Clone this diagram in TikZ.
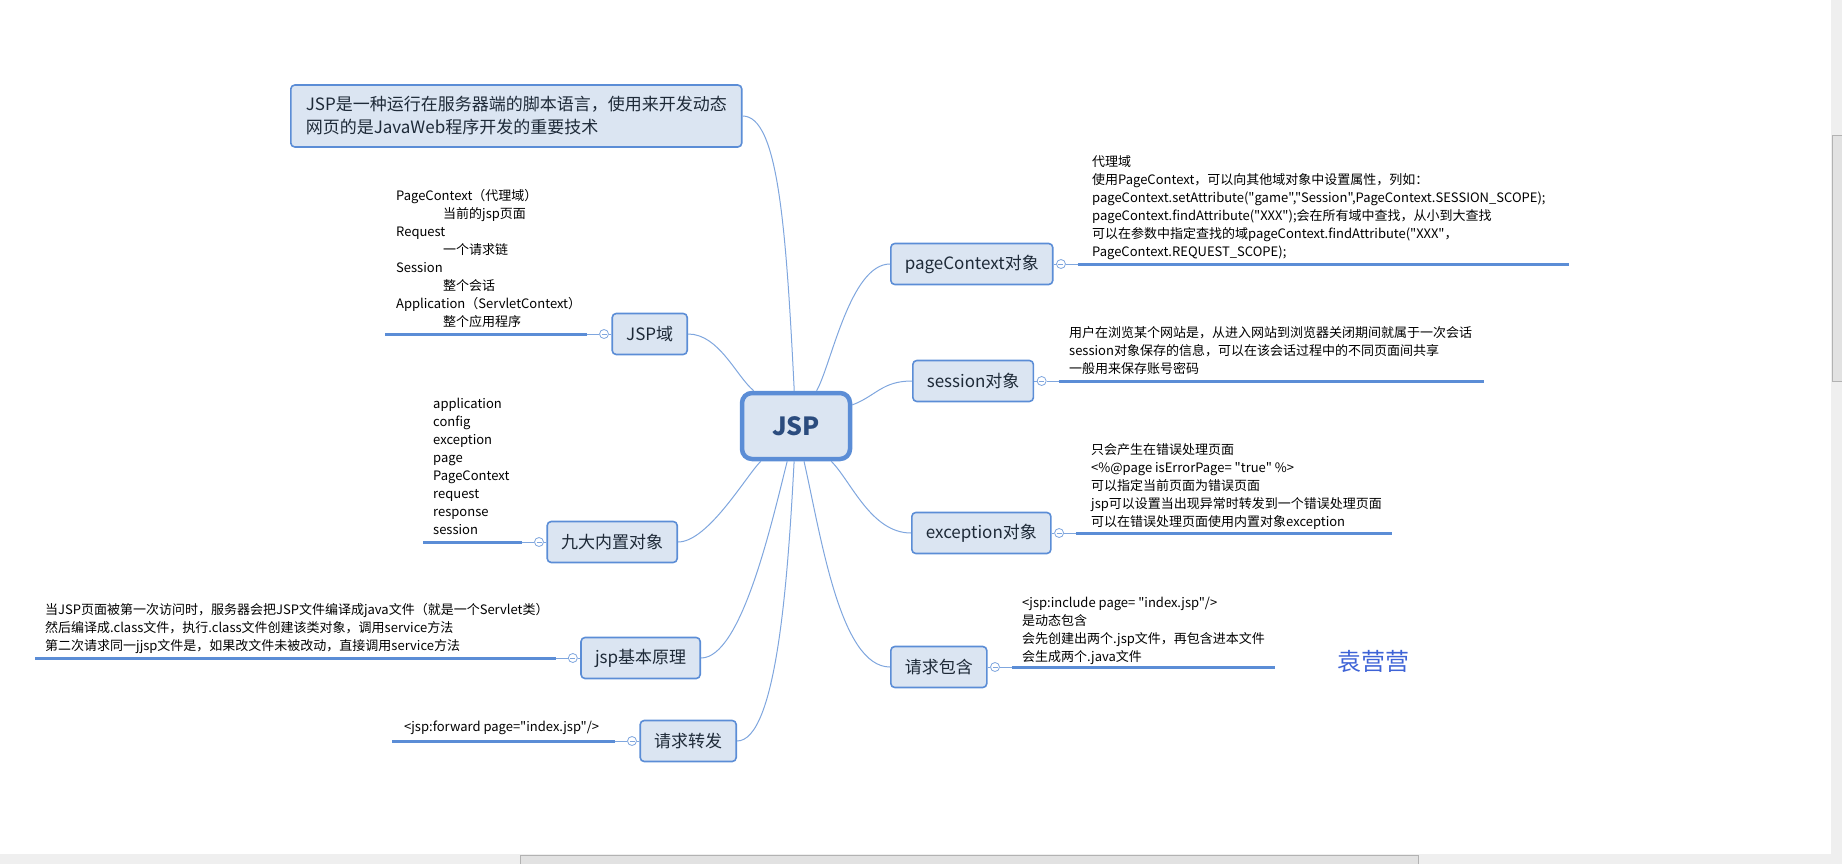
\documentclass[tikz,border=0pt]{standalone}
\usepackage{fontspec}
\setmainfont{Noto Sans CJK SC}[Ligatures=TeXOff]
\usetikzlibrary{positioning}

\definecolor{boxfill}{HTML}{DBE5F2}
\definecolor{linec}{HTML}{5B8DD6}
\definecolor{curvec}{HTML}{7FA6DE}
\definecolor{inkc}{HTML}{1E2A38}
\definecolor{rootink}{HTML}{2B4C7E}
\definecolor{signc}{HTML}{3E63D6}
\definecolor{barbg}{HTML}{EFEFEF}
\definecolor{thumbc}{HTML}{E2E2E2}

\newcommand\notefont{\fontsize{13}{18}\selectfont}
\newcommand\topicfont{\fontsize{17}{21}\selectfont}

\tikzset{
	topic/.style={draw=linec,fill=boxfill,line width=1.6pt,rounded corners=4pt,minimum height=41pt,inner xsep=14pt,font=\topicfont,text=inkc},
	fold/.style={draw=curvec,fill=white,circle,inner sep=0pt,minimum size=9pt,line width=0.8pt,
		path picture={\draw[curvec,line width=0.8pt] ([xshift=-2.5pt]path picture bounding box.center) -- ([xshift=2.5pt]path picture bounding box.center);}},
	twig/.style={curvec,line width=0.9pt},
	stem/.style={linec,line width=3pt},
	branch/.style={curvec,line width=1pt},
	note/.style={anchor=north west,inner sep=0pt,align=left,font=\notefont,text=black}
}

\begin{document}
\begin{tikzpicture}[x=1pt,y=-1pt]
			\useasboundingbox (0,0) rectangle (1842,864);
			% root and intro
			\node[draw=linec,fill=boxfill,line width=4.5pt,rounded corners=10pt,minimum width=108pt,minimum height=66pt,font=\fontsize{25}{30}\selectfont\bfseries,text=rootink] (jsp) at (796,426) {JSP};
			\node[topic,anchor=west,minimum height=62pt,minimum width=447pt,align=left,inner xsep=15pt,font=\fontsize{17}{23}\selectfont] (intro) at (290,116) {JSP是一种运行在服务器端的脚本语言，使用来开发动态\\网页的是JavaWeb程序开发的重要技术};
			% left branches
			\node[topic,anchor=east] (jy) at (688,334) {JSP域};
			\node[topic,anchor=east] (jz) at (678,542) {九大内置对象};
			\node[topic,anchor=east] (yl) at (701,658) {jsp基本原理};
			\node[topic,anchor=east] (zf) at (737,741) {请求转发};
			% right branches
			\node[topic,anchor=west] (pc) at (890,264) {pageContext对象};
			\node[topic,anchor=west] (ss) at (912,381) {session对象};
			\node[topic,anchor=west] (ex) at (911,533) {exception对象};
			\node[topic,anchor=west] (bh) at (890,667) {请求包含};

			\draw[branch] (jsp) .. controls (786,226) and (778,116) .. (intro.east);
			\draw[branch] (jsp) .. controls (736,376) and (719,334) .. (jy.east);
			\draw[branch] (jsp) .. controls (746,476) and (708,542) .. (jz.east);
			\draw[branch] (jsp) .. controls (771,526) and (741,658) .. (yl.east);
			\draw[branch] (jsp) .. controls (788,576) and (777,741) .. (zf.east);
			\draw[branch] (jsp) .. controls (831,366) and (850,264) .. (pc.west);
			\draw[branch] (jsp) .. controls (876,396) and (882,381) .. (ss.west);
			\draw[branch] (jsp) .. controls (851,481) and (871,533) .. (ex.west);
			\draw[branch] (jsp) .. controls (821,536) and (840,667) .. (bh.west);

			% fold marks and underlines
			\node[fold,left=2.5pt of jy] (jyT) {};
			\node[fold,left=2.5pt of jz] (jzT) {};
			\node[fold,left=2.5pt of yl] (ylT) {};
			\node[fold,left=2.5pt of zf] (zfT) {};
			\node[fold,right=2.5pt of pc] (pcT) {};
			\node[fold,right=2.5pt of ss] (ssT) {};
			\node[fold,right=2.5pt of ex] (exT) {};
			\node[fold,right=2.5pt of bh] (bhT) {};
			\coordinate[left=12pt of jyT] (jyA);
			\coordinate[left=12pt of jzT] (jzA);
			\coordinate[left=12pt of ylT] (ylA);
			\coordinate[left=12pt of zfT] (zfA);
			\coordinate[right=12pt of pcT] (pcA);
			\coordinate[right=12pt of ssT] (ssA);
			\coordinate[right=12pt of exT] (exA);
			\coordinate[right=12pt of bhT] (bhA);
			\coordinate (jyE) at (385,334);
			\coordinate (jzE) at (423,542);
			\coordinate (ylE) at (35,658);
			\coordinate (zfE) at (392,741);
			\coordinate (pcE) at (1569,264);
			\coordinate (ssE) at (1484,381);
			\coordinate (exE) at (1392,533);
			\coordinate (bhE) at (1275,667);
			\foreach \b in {jy,jz,yl,zf,pc,ss,ex,bh}{
				\draw[twig] (\b) -- (\b T) -- (\b A);
				\draw[stem] (\b A) -- (\b E);
			}

			% notes
			\node[note] (jyN) at (396,188) {\strut PageContext（代理域）\\\hspace*{47pt}当前的jsp页面\\Request\\\hspace*{47pt}一个请求链\\Session\\\hspace*{47pt}整个会话\\Application（ServletContext）\\\hspace*{47pt}整个应用程序};
			\node[note] (jzN) at (433,396) {\strut application\\config\\exception\\page\\PageContext\\request\\response\\session};
			\node[note] (ylN) at (45,602) {\strut 当JSP页面被第一次访问时，服务器会把JSP文件编译成java文件（就是一个Servlet类）\\然后编译成.class文件，执行.class文件创建该类对象，调用service方法\\第二次请求同一jjsp文件是，如果改文件未被改动，直接调用service方法};
			\node[note] (zfN) at (404,719) {\strut <jsp:forward page="index.jsp"/>};
			\node[note] (pcN) at (1092,154) {\strut 代理域\\使用PageContext，可以向其他域对象中设置属性，列如：\\pageContext.setAttribute("game","Session",PageContext.SESSION\_SCOPE);\\pageContext.findAttribute("XXX");会在所有域中查找，从小到大查找\\可以在参数中指定查找的域pageContext.findAttribute("XXX"，\\PageContext.REQUEST\_SCOPE);};
			\node[note] (ssN) at (1069,325) {\strut 用户在浏览某个网站是，从进入网站到浏览器关闭期间就属于一次会话\\session对象保存的信息，可以在该会话过程中的不同页面间共享\\一般用来保存账号密码};
			\node[note] (exN) at (1091,442) {\strut 只会产生在错误处理页面\\<\%@page isErrorPage= "true" \%>\\可以指定当前页面为错误页面\\jsp可以设置当出现异常时转发到一个错误处理页面\\可以在错误处理页面使用内置对象exception};
			\node[note] (bhN) at (1022,595) {\strut <jsp:include page= "index.jsp"/>\\是动态包含\\会先创建出两个.jsp文件，再包含进本文件\\会生成两个.java文件};
			\node[font=\fontsize{24}{28}\selectfont,text=signc] (sign) at (1373,661) {袁营营};

			% window scrollbars
			\fill[barbg] (0,854) rectangle (1842,864);
			\fill[barbg] (1831,0) rectangle (1842,854);
			\draw[gray!60,fill=thumbc] (520,855) rectangle (1418,864);
			\draw[gray!60,fill=thumbc] (1832,135) rectangle (1842,381);
		\end{tikzpicture}
\end{document}
